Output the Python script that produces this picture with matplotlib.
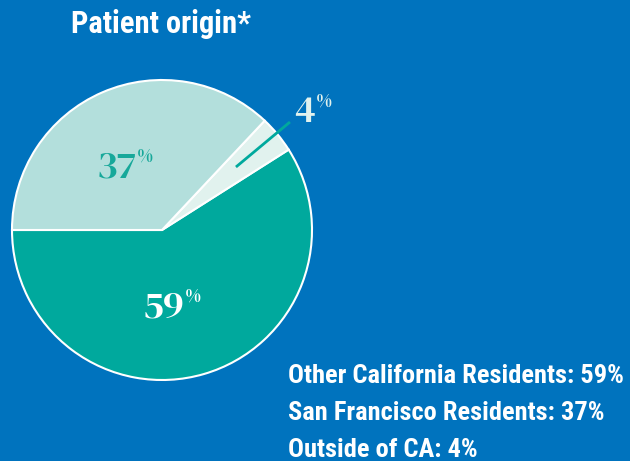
import matplotlib
matplotlib.use("Agg")
import matplotlib.pyplot as plt

# data
labels = ["Other California Residents", "Outside of CA", "San Francisco Residents"]
values = [59, 4, 37]
colors = ["#00A99D", "#E1F2EE", "#B3DFDC"]
legend_order = ["Other California Residents", "San Francisco Residents", "Outside of CA"]

bg = "#0073BE"
sans = ["Roboto Condensed", "DejaVu Sans"]
serif = ["DM Serif Display", "Liberation Serif", "DejaVu Serif"]

fig = plt.figure(figsize=(6.3, 4.61), dpi=100)
fig.patch.set_facecolor(bg)

# pie axes: center (162,230) px, radius 150 px
W, H = 630, 461
ax = fig.add_axes([12 / W, (H - 380) / H, 300 / W, 300 / H])
ax.set_facecolor(bg)
wedges, _ = ax.pie(values, colors=colors, startangle=180, counterclock=True,
                   radius=1, wedgeprops=dict(edgecolor="white", linewidth=1.5))
ax.set_xlim(-1, 1)
ax.set_ylim(-1, 1)
ax.set_aspect("equal")
ax.axis("off")

# percentage labels: (anchor x, baseline y, colour) in pie units
label_pos = {
    "Other California Residents": (0.147, -0.58, "white"),
    "San Francisco Residents": (-0.173, 0.353, "#17A89A"),
    "Outside of CA": (1.02, 0.72, "#E1F2EE"),
}
for lab, v in zip(labels, values):
    x, y, c = label_pos[lab]
    ax.text(x, y, str(v), ha="right", va="baseline", fontsize=28,
            family=serif, color=c, clip_on=False)
    ax.annotate("%", (x, y), xytext=(0.5, 11), textcoords="offset points",
                ha="left", va="baseline", fontsize=13.5, family=serif,
                color=c, annotation_clip=False)

# leader line into the small slice
ax.plot([0.493, 0.853], [0.42, 0.72], color="#00A99D", lw=2, clip_on=False,
        solid_capstyle="butt")

fig.text(71 / W, 1 - 33 / H, "Patient origin*", ha="left", va="baseline",
         fontsize=22, fontweight="bold", family=sans, color="white")

for i, lab in enumerate(legend_order):
    v = values[labels.index(lab)]
    fig.text(288 / W, 1 - (383 + 37 * i) / H, f"{lab}: {v}%", ha="left",
             va="baseline", fontsize=19, fontweight="bold", family=sans,
             color="white")

fig.savefig("out.png", dpi=100, facecolor=bg)
